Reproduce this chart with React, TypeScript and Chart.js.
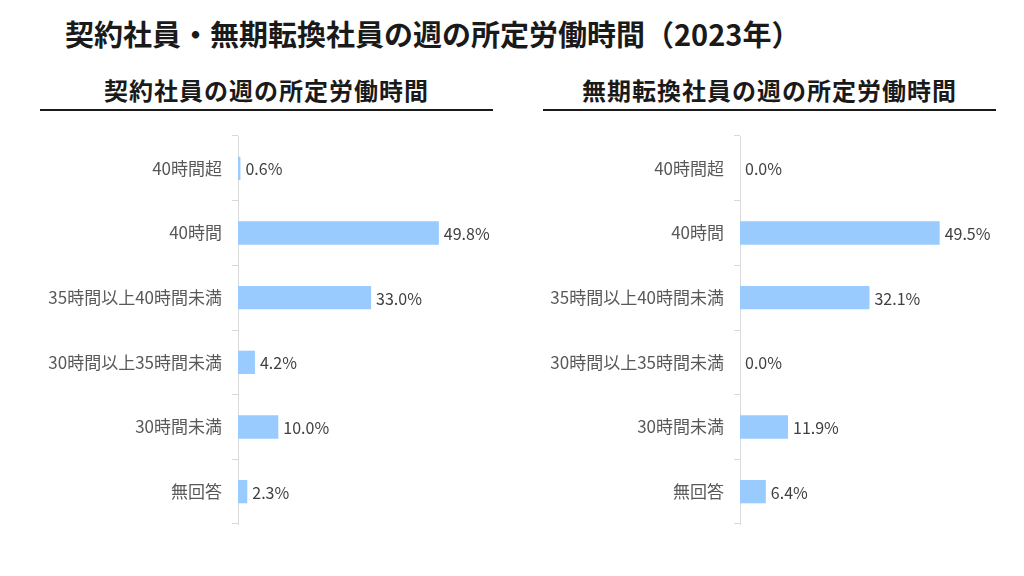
import React, { useEffect, useRef } from "react";
import { Chart, registerables } from "chart.js";

Chart.register(...registerables);

const categories = [
  "40時間超",
  "40時間",
  "35時間以上40時間未満",
  "30時間以上35時間未満",
  "30時間未満",
  "無回答",
];
const contractValues = [0.6, 49.8, 33.0, 4.2, 10.0, 2.3];
const convertedValues = [0.0, 49.5, 32.1, 0.0, 11.9, 6.4];

const mainTitle = "契約社員・無期転換社員の週の所定労働時間（2023年）";
const leftTitle = "契約社員の週の所定労働時間";
const rightTitle = "無期転換社員の週の所定労働時間";

const FONT = '"Noto Sans CJK JP", "Noto Sans", sans-serif';
const BAR_COLOR = "#9ACBFF";

const labelPlugin = {
  id: "valueLabels",
  afterDatasetsDraw(chart: any) {
    const ctx = chart.ctx;
    ctx.save();
    ctx.font = `16px ${FONT}`;
    ctx.fillStyle = "#404040";
    ctx.textAlign = "left";
    ctx.textBaseline = "middle";
    chart.data.datasets.forEach((ds: any, di: number) => {
      const meta = chart.getDatasetMeta(di);
      meta.data.forEach((el: any, i: number) => {
        const v = ds.data[i] as number;
        ctx.fillText(v.toFixed(1) + "%", el.x + 5, el.y + 1);
      });
    });
    ctx.restore();
  },
};

function BarPanel({ values, left }: { values: number[]; left: number }) {
  const ref = useRef<HTMLCanvasElement>(null);
  useEffect(() => {
    if (!ref.current) return;
    const chart = new Chart(ref.current, {
      type: "bar",
      data: {
        labels: categories,
        datasets: [
          {
            data: values,
            backgroundColor: BAR_COLOR,
            borderWidth: 0,
            barPercentage: 0.72,
            categoryPercentage: 0.5,
          },
        ],
      },
      options: {
        indexAxis: "y",
        animation: false,
        responsive: false,
        maintainAspectRatio: false,
        events: [],
        layout: { padding: { top: 6, bottom: 6, right: 20, left: 0 } },
        plugins: {
          legend: { display: false },
          tooltip: { enabled: false },
          title: { display: false },
        },
        scales: {
          x: {
            display: false,
            min: 0,
            max: 60,
          },
          y: {
            offset: true,
            afterFit(scale: any) {
              scale.width = 198;
              scale.paddingTop = 0;
              scale.paddingBottom = 0;
            },
            border: { display: true, color: "#D9D9D9", width: 1 },
            grid: {
              offset: true,
              drawOnChartArea: false,
              drawTicks: true,
              tickLength: 6,
              color: "#D9D9D9",
            },
            ticks: {
              color: "#595959",
              padding: 10,
              font: { family: FONT, size: 17 },
            },
          },
        },
      },
      plugins: [labelPlugin],
    } as any);
    return () => chart.destroy();
  }, [values]);
  return (
    <canvas
      ref={ref}
      width={460}
      height={400}
      style={{ position: "absolute", left, top: 130, width: 460, height: 400 }}
    />
  );
}

function SubTitle({ text, x1, x2 }: { text: string; x1: number; x2: number }) {
  return (
    <>
      <div
        style={{
          position: "absolute",
          left: x1,
          width: x2 - x1,
          top: 73,
          textAlign: "center",
          fontFamily: FONT,
          fontWeight: 700,
          fontSize: 24,
          lineHeight: "34px",
          color: "#1a1a1a",
          letterSpacing: 1,
        }}
      >
        {text}
      </div>
      <div
        style={{
          position: "absolute",
          left: x1,
          width: x2 - x1,
          top: 109,
          height: 2,
          background: "#1a1a1a",
        }}
      />
    </>
  );
}

export default function App() {
  return (
    <div
      style={{
        position: "absolute",
        left: 0,
        top: 0,
        width: 1024,
        height: 576,
        background: "#ffffff",
        overflow: "hidden",
      }}
    >
      <div
        style={{
          position: "absolute",
          left: 65,
          top: 13,
          fontFamily: FONT,
          fontWeight: 700,
          fontSize: 29,
          lineHeight: "40px",
          color: "#1a1a1a",
          whiteSpace: "nowrap",
        }}
      >
        {mainTitle}
      </div>
      <SubTitle text={leftTitle} x1={40} x2={493} />
      <SubTitle text={rightTitle} x1={543} x2={996} />
      <BarPanel values={contractValues} left={40} />
      <BarPanel values={convertedValues} left={542} />
    </div>
  );
}
